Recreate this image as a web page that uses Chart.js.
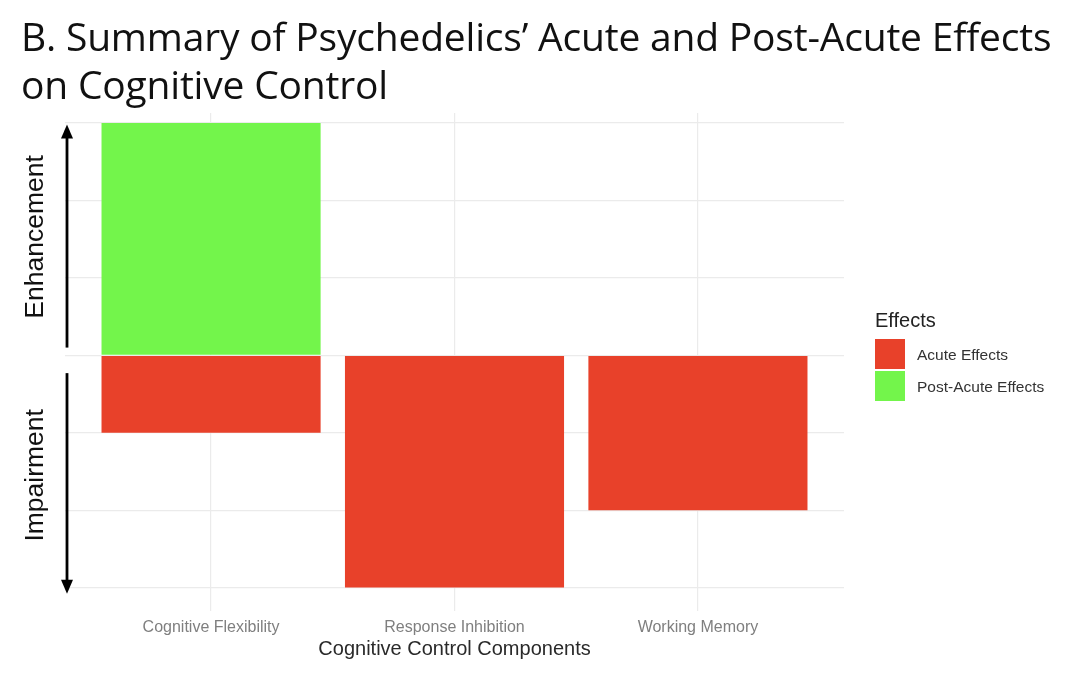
<!DOCTYPE html>
<html>
<head>
<meta charset="utf-8">
<script src="https://cdn.jsdelivr.net/npm/chart.js@4"></script>
<style>
  body { margin:0; background:#fff; width:1074px; height:678px; overflow:hidden; position:relative; font-family:"Liberation Sans", Arial, sans-serif; }
  #title { position:absolute; left:21px; top:12px; font-family:"Open Sans", sans-serif; font-size:39px; line-height:48px; color:#111; white-space:nowrap; letter-spacing:-0.2px; }
  #wrap { position:absolute; left:0; top:0; width:1074px; height:678px; }
  .leg { position:absolute; color:#333; font-family:"Liberation Sans", Arial, sans-serif; font-size:15.5px; line-height:20px; }
  .sw { position:absolute; width:30px; height:30px; }
</style>
</head>
<body>
<div id="wrap"><canvas id="c"></canvas></div>
<div id="title">B. Summary of Psychedelics’ Acute and Post-Acute Effects<br>on Cognitive Control</div>

<div class="leg" style="left:875px;top:308px;font-size:20px;line-height:24px;color:#222">Effects</div>
<div class="sw" style="left:875px;top:339px;background:#E8412A"></div>
<div class="leg" style="left:917px;top:345px">Acute Effects</div>
<div class="sw" style="left:875px;top:371px;background:#73F54B"></div>
<div class="leg" style="left:917px;top:377px">Post-Acute Effects</div>

<script>
// categories and values (positive = enhancement, negative = impairment)
const components = ["Cognitive Flexibility", "Response Inhibition", "Working Memory"];
const acute = [-1, -3, -2];
const postAcute = [3, null, null];
const yTicks = [-3, -2, -1, 0, 1, 2, 3];

const RED = "#E8412A", GREEN = "#73F54B";

const toXY = arr => arr.map((v, i) => ({ x: i + 1, y: v }));

// arrows + rotated side labels on the left of the panel
const sideArrows = {
  id: "sideArrows",
  afterDraw(chart) {
    const { ctx } = chart;
    const y = chart.scales.y;
    const ax = 67;
    ctx.save();
    ctx.strokeStyle = "#000";
    ctx.fillStyle = "#000";
    ctx.lineWidth = 2.8;
    const arrow = (y0, y1) => {
      const dir = y1 < y0 ? -1 : 1;
      ctx.beginPath(); ctx.moveTo(ax, y0); ctx.lineTo(ax, y1 - dir * 8); ctx.stroke();
      ctx.beginPath();
      ctx.moveTo(ax, y1); ctx.lineTo(ax - 6, y1 - dir * 14); ctx.lineTo(ax + 6, y1 - dir * 14);
      ctx.closePath(); ctx.fill();
    };
    arrow(y.getPixelForValue(0.1), y.getPixelForValue(2.98));
    arrow(y.getPixelForValue(-0.23), y.getPixelForValue(-3.08));
    ctx.font = "26.5px 'Liberation Sans', Arial, sans-serif";
    ctx.fillStyle = "#111";
    ctx.textAlign = "center";
    ctx.textBaseline = "middle";
    const lab = (t, yc) => {
      ctx.save(); ctx.translate(36, yc); ctx.rotate(-Math.PI / 2); ctx.fillText(t, 0, 0); ctx.restore();
    };
    lab("Enhancement", y.getPixelForValue(1.53));
    lab("Impairment", y.getPixelForValue(-1.55));
    ctx.restore();
  }
};

new Chart(document.getElementById("c"), {
  type: "bar",
  data: {
    datasets: [
      { label: "Acute Effects", data: toXY(acute), backgroundColor: RED, borderWidth: 0 },
      { label: "Post-Acute Effects", data: toXY(postAcute), backgroundColor: GREEN, borderWidth: 0 }
    ]
  },
  options: {
    responsive: true, maintainAspectRatio: false, animation: false,
    layout: { padding: { left: 65, right: 230, top: 113, bottom: 19 } },
    datasets: { bar: { categoryPercentage: 1, barPercentage: 0.9 } },
    plugins: { legend: { display: false }, tooltip: { enabled: false } },
    scales: {
      x: {
        type: "linear", stacked: true, min: 0.4, max: 3.6, offset: false,
        afterBuildTicks: s => { s.ticks = components.map((_, i) => ({ value: i + 1 })); },
        border: { display: false },
        grid: { color: "#EBEBEB", lineWidth: 1.2, drawTicks: false, offset: false },
        ticks: { padding: 7, color: "#7f7f7f", font: { family: "Liberation Sans", size: 16 },
                 callback: v => components[v - 1] },
        title: { display: true, text: "Cognitive Control Components", color: "#2a2a2a",
                 font: { family: "Liberation Sans", size: 20, lineHeight: 1 }, padding: { top: -5, bottom: 0 } }
      },
      y: {
        stacked: true, min: -3.3, max: 3.13,
        afterBuildTicks: s => { s.ticks = yTicks.map(v => ({ value: v })); },
        border: { display: false },
        grid: { color: "#EBEBEB", lineWidth: 1.2, drawTicks: false },
        ticks: { display: false }
      }
    }
  },
  plugins: [sideArrows]
});
</script>
</body>
</html>
